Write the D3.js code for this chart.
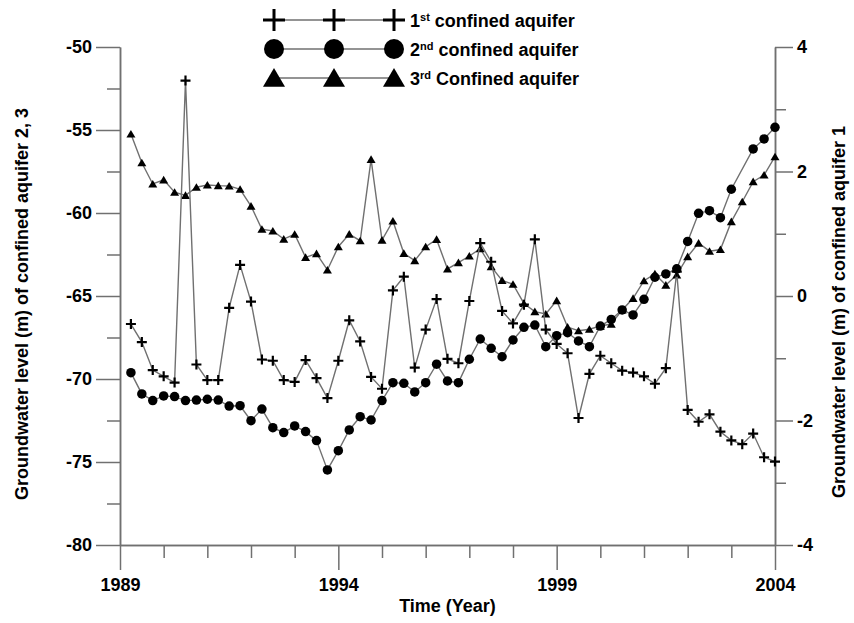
<!DOCTYPE html>
<html>
<head>
<meta charset="utf-8">
<script src="https://cdn.jsdelivr.net/npm/d3@7"></script>
<style>
  body { margin: 0; background: #fff; }
  svg { display: block; font-family: 'Liberation Sans', Arial, sans-serif; }
</style>
</head>
<body>
<div id="chart"></div>
<script>
// Quarterly observation times (decimal year)
const times = [
  1989.25, 1989.5, 1989.75, 1990.0, 1990.25, 1990.5, 1990.75, 1991.0,
  1991.25, 1991.5, 1991.75, 1992.0, 1992.25, 1992.5, 1992.75, 1993.0,
  1993.25, 1993.5, 1993.75, 1994.0, 1994.25, 1994.5, 1994.75, 1995.0,
  1995.25, 1995.5, 1995.75, 1996.0, 1996.25, 1996.5, 1996.75, 1997.0,
  1997.25, 1997.5, 1997.75, 1998.0, 1998.25, 1998.5, 1998.75, 1999.0,
  1999.25, 1999.5, 1999.75, 2000.0, 2000.25, 2000.5, 2000.75, 2001.0,
  2001.25, 2001.5, 2001.75, 2002.0, 2002.25, 2002.5, 2002.75, 2003.0,
  2003.25, 2003.5, 2003.75, 2004.0
];

// 1st confined aquifer (right axis, m)
const aquifer1 = [
  -0.45, -0.74, -1.19, -1.29, -1.39, 3.46, -1.10, -1.35,
  -1.35, -0.19, 0.50, -0.09, -1.02, -1.04, -1.35, -1.38,
  -1.03, -1.32, -1.64, -1.04, -0.39, -0.73, -1.30, -1.49,
  0.09, 0.31, -1.15, -0.54, -0.05, -1.01, -1.08, -0.08,
  0.85, 0.55, -0.24, -0.44, -0.14, 0.91, -0.54, -0.77,
  -0.92, -1.96, -1.25, -0.96, -1.08, -1.20, -1.23, -1.29,
  -1.41, -1.16, 0.39, -1.83, -2.02, -1.90, -2.18, -2.32,
  -2.38, -2.21, -2.59, -2.66
];

// 2nd confined aquifer (left axis, m); null = no reading
const aquifer2 = [
  -69.62, -70.90, -71.30, -71.02, -71.06, -71.30, -71.27, -71.22,
  -71.27, -71.63, -71.61, -72.51, -71.81, -72.93, -73.23, -72.83,
  -73.17, -73.71, -75.48, -74.32, -73.07, -72.27, -72.47, -71.30,
  -70.22, -70.26, -70.78, -70.22, -69.11, -70.12, -70.22, -68.81,
  -67.59, -68.15, -68.66, -67.65, -66.89, -66.75, -68.05, -67.39,
  -67.21, -67.71, -68.05, -66.81, -66.41, -65.84, -66.14, -65.20,
  -63.87, -63.67, -63.36, -61.71, -60.02, -59.86, -60.28, -58.57,
  null, -56.14, -55.54, -54.84
];

// 3rd confined aquifer (left axis, m)
const aquifer3 = [
  -55.24, -56.97, -58.25, -58.00, -58.75, -58.94, -58.45, -58.31,
  -58.35, -58.37, -58.57, -59.58, -60.98, -61.08, -61.57, -61.28,
  -62.67, -62.45, -63.43, -62.03, -61.27, -61.67, -56.77, -61.63,
  -60.48, -62.43, -62.87, -62.03, -61.59, -63.37, -62.99, -62.59,
  -62.15, -63.23, -64.06, -64.29, -65.45, -65.94, -66.08, -65.28,
  -66.87, -67.09, -67.00, -66.81, -66.69, -65.84, -65.14, -64.08,
  -63.67, -64.34, -63.73, -62.63, -61.81, -62.30, -62.20, -60.52,
  -59.32, -58.11, -57.71, -56.61
];

// Tick values
const yearMajor = [1989, 1994, 1999, 2004];
const yearMinor = [1990, 1991, 1992, 1993, 1995, 1996, 1997, 1998, 2000, 2001, 2002, 2003];
const leftMajor = [-80, -75, -70, -65, -60, -55, -50];
const leftMinor = [-77.5, -72.5, -67.5, -62.5, -57.5, -52.5];
const rightMajor = [-4, -2, 0, 2, 4];
const rightMinor = [-3, -1, 1, 3];

const legendLabels = [
  { num: '1', sup: 'st', rest: ' confined aquifer', sym: 'cross' },
  { num: '2', sup: 'nd', rest: ' confined aquifer', sym: 'circle' },
  { num: '3', sup: 'rd', rest: ' Confined aquifer', sym: 'triangle' }
];

const width = 854;
const height = 623;
const marginTop = 47;
const marginRight = 79;
const marginBottom = 78;
const marginLeft = 120;

const lineColor = '#707070';
const axisColor = '#707070';

const svg = d3.select('#chart')
  .append('svg')
  .attr('width', width)
  .attr('height', height)
  .attr('viewBox', [0, 0, width, height]);

const x = d3.scaleLinear()
  .domain([1989, 2004])
  .range([marginLeft, width - marginRight]);

const yLeft = d3.scaleLinear()
  .domain([-80, -50])
  .range([height - marginBottom, marginTop]);

const yRight = d3.scaleLinear()
  .domain([-4, 4])
  .range([height - marginBottom, marginTop]);

// plain hyphen minus, like the original figure
const plain = d => String(d);

// Helper to style an axis group
function styleAxis(g) {
  g.select('.domain').attr('stroke', axisColor).attr('stroke-width', 1.5);
  g.selectAll('.tick line').attr('stroke', axisColor).attr('stroke-width', 1.5);
  g.selectAll('.tick text')
    .attr('fill', '#000')
    .style('font-size', '18px')
    .style('font-weight', 'bold');
}

// Bottom axis
svg.append('g')
  .attr('transform', `translate(0,${height - marginBottom})`)
  .call(d3.axisBottom(x).tickValues(yearMinor).tickSize(13).tickSizeOuter(0).tickFormat(''))
  .call(styleAxis);
svg.append('g')
  .attr('transform', `translate(0,${height - marginBottom})`)
  .call(d3.axisBottom(x).tickValues(yearMajor).tickSize(25).tickSizeOuter(0).tickFormat(plain).tickPadding(8))
  .call(styleAxis);

// Left axis
svg.append('g')
  .attr('transform', `translate(${marginLeft},0)`)
  .call(d3.axisLeft(yLeft).tickValues(leftMinor).tickSize(13).tickSizeOuter(0).tickFormat(''))
  .call(styleAxis);
svg.append('g')
  .attr('transform', `translate(${marginLeft},0)`)
  .call(d3.axisLeft(yLeft).tickValues(leftMajor).tickSize(24).tickSizeOuter(0).tickFormat(plain).tickPadding(4))
  .call(styleAxis);

// Right axis
svg.append('g')
  .attr('transform', `translate(${width - marginRight},0)`)
  .call(d3.axisRight(yRight).tickValues(rightMinor).tickSize(11).tickSizeOuter(0).tickFormat(''))
  .call(styleAxis);
svg.append('g')
  .attr('transform', `translate(${width - marginRight},0)`)
  .call(d3.axisRight(yRight).tickValues(rightMajor).tickSize(18).tickSizeOuter(0).tickFormat(plain).tickPadding(4))
  .call(styleAxis);

// Axis titles
svg.append('text')
  .attr('x', (marginLeft + width - marginRight) / 2)
  .attr('y', 612)
  .attr('text-anchor', 'middle')
  .style('font-size', '18px')
  .style('font-weight', 'bold')
  .text('Time (Year)');

svg.append('text')
  .attr('transform', `translate(28,${(marginTop + height - marginBottom) / 2 + 8}) rotate(-90)`)
  .attr('text-anchor', 'middle')
  .style('font-size', '18px')
  .style('font-weight', 'bold')
  .text('Groundwater level (m) of confined aquifer 2, 3');

svg.append('text')
  .attr('transform', `translate(845,${(marginTop + height - marginBottom) / 2 + 16}) rotate(-90)`)
  .attr('text-anchor', 'middle')
  .style('font-size', '18px')
  .style('font-weight', 'bold')
  .text('Groundwater level (m) of confined aquifer 1');

// Marker drawing
function drawMarker(g, type, size) {
  if (type === 'cross') {
    const h = size / 2;
    g.append('path')
      .attr('d', `M${-h},0H${h}M0,${-h}V${h}`)
      .attr('stroke', '#000')
      .attr('stroke-width', size > 12 ? 3 : 2.2);
  } else if (type === 'circle') {
    g.append('circle').attr('r', size / 2).attr('fill', '#000');
  } else {
    const h = size / 2;
    g.append('path')
      .attr('d', `M0,${-h * 0.9}L${h},${h * 0.8}L${-h},${h * 0.8}Z`)
      .attr('fill', '#000');
  }
}

const seriesList = [
  { values: aquifer3, y: yLeft, sym: 'triangle', size: 9 },
  { values: aquifer2, y: yLeft, sym: 'circle', size: 9.5 },
  { values: aquifer1, y: yRight, sym: 'cross', size: 10 }
];

seriesList.forEach(s => {
  const pts = times.map((t, i) => ({ t, v: s.values[i] })).filter(d => d.v !== null);
  const line = d3.line()
    .x(d => x(d.t))
    .y(d => s.y(d.v));

  svg.append('path')
    .datum(pts)
    .attr('fill', 'none')
    .attr('stroke', lineColor)
    .attr('stroke-width', 1.4)
    .attr('d', line);

  svg.append('g')
    .selectAll('g')
    .data(pts)
    .join('g')
    .attr('transform', d => `translate(${x(d.t)},${s.y(d.v)})`)
    .each(function () { drawMarker(d3.select(this), s.sym, s.size); });
});

// Legend
const legend = svg.append('g');
const legendX = [274, 334, 394];
const legendY = [20, 49, 78];

legendLabels.forEach((item, i) => {
  const row = legend.append('g').attr('transform', `translate(0,${legendY[i]})`);
  row.append('line')
    .attr('x1', legendX[0])
    .attr('x2', legendX[2])
    .attr('stroke', lineColor)
    .attr('stroke-width', 1.5);
  legendX.forEach(lx => {
    const m = row.append('g').attr('transform', `translate(${lx},0)`);
    drawMarker(m, item.sym, item.sym === 'circle' ? 20 : 22);
  });
  const txt = row.append('text')
    .attr('x', 410)
    .attr('y', 7)
    .style('font-size', '18px')
    .style('font-weight', 'bold');
  txt.append('tspan').text(item.num);
  txt.append('tspan').attr('dy', -6).style('font-size', '11px').text(item.sup);
  txt.append('tspan').attr('dy', 6).text(item.rest);
});
</script>
</body>
</html>
